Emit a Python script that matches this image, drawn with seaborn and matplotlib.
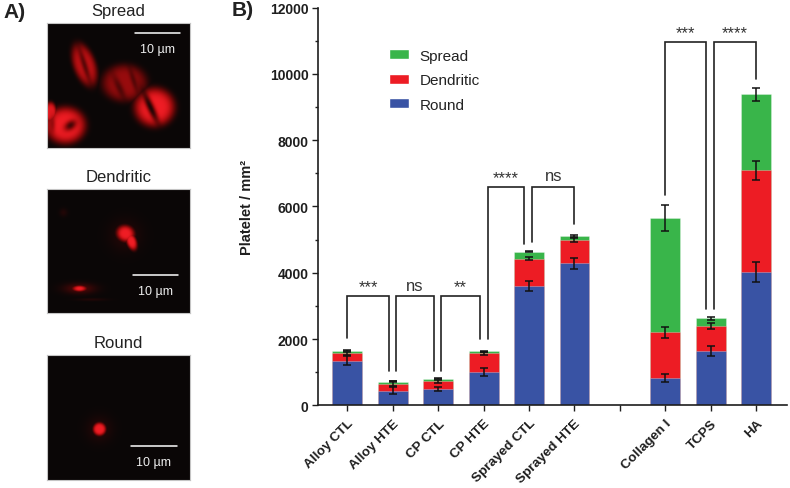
import numpy as np
import pandas as pd
import seaborn as sns
import matplotlib
matplotlib.use("Agg")
import matplotlib.pyplot as plt
from matplotlib.patches import Patch

sns.set_theme(style="ticks")
plt.rcParams["font.family"] = ["Liberation Sans", "DejaVu Sans"]

W, H = 790, 489
INK = "#1e1e1e"

categories = ["Alloy CTL", "Alloy HTE", "CP CTL", "CP HTE", "Sprayed CTL", "Sprayed HTE",
              " ", "Collagen I", "TCPS", "HA"]
round_vals = [1350, 445, 485, 1000, 3606, 4283, np.nan, 814, 1638, 4020]
dendritic_vals = [220, 211, 242, 565, 808, 712, np.nan, 1386, 744, 3065]
spread_vals = [70, 61, 81, 71, 222, 121, np.nan, 3448, 241, 2292]
round_err = [135, 100, 60, 115, 150, 170, np.nan, 125, 145, 305]
dendritic_err = [50, 65, 45, 55, 45, 60, np.nan, 160, 90, 285]
spread_err = [15, 12, 15, 15, 20, 25, np.nan, 400, 40, 190]
colors = {"Round": "#3953A4", "Dendritic": "#ED1C24", "Spread": "#39B54A"}

y_ticks = [0, 2000, 4000, 6000, 8000, 10000, 12000]
y_label = "Platelet / mm²"

# left index, left offset, left end, right index, right offset, right end, top, label
brackets = [
    (0, 0.0, 2030, 1, -0.09, 1040, 3290, "***"),
    (1, 0.06, 1040, 2, -0.09, 1040, 3290, "ns"),
    (2, 0.07, 1040, 3, -0.09, 2000, 3290, "**"),
    (3, 0.09, 2000, 4, -0.11, 4866, 6595, "****"),
    (4, 0.07, 4917, 5, 0.0, 5470, 6595, "ns"),
    (7, 0.0, 6330, 8, -0.11, 2895, 10950, "***"),
    (8, 0.07, 2895, 9, 0.0, 9830, 10950, "****"),
]

panel_titles = ["Spread", "Dendritic", "Round"]
scale_text = "10 µm"

df = pd.DataFrame({"category": categories, "Round": round_vals,
                   "Dendritic": dendritic_vals, "Spread": spread_vals})
df["Round_top"] = df["Round"]
df["Dendritic_top"] = df["Round_top"] + df["Dendritic"]
df["Spread_top"] = df["Dendritic_top"] + df["Spread"]

fig = plt.figure(figsize=(W / 100, H / 100), dpi=100, facecolor="white")


def px_axes(x0, y0, x1, y1):
    return fig.add_axes([x0 / W, 1 - y1 / H, (x1 - x0) / W, (y1 - y0) / H])


ax = px_axes(317.5, 8.5, 787, 406.3)

for layer in ["Spread", "Dendritic", "Round"]:
    sns.barplot(data=df, x="category", y=f"{layer}_top", order=categories,
                color=colors[layer], saturation=1, width=0.66, errorbar=None,
                edgecolor="#ffffff55", linewidth=0.6, ax=ax)

pos = np.arange(len(categories))
for layer, err in [("Round", round_err), ("Dendritic", dendritic_err), ("Spread", spread_err)]:
    ax.errorbar(pos, df[f"{layer}_top"], yerr=err, fmt="none", ecolor="#111111",
                elinewidth=1.1, capsize=3, capthick=1.1, zorder=5)

for li, lo, ly, ri, ro, ry, top, label in brackets:
    xl, xr = li + lo, ri + ro
    ax.plot([xl, xl, xr, xr], [ly, top, top, ry], color="#222222", lw=1.2,
            solid_joinstyle="miter", zorder=6)
    star = label != "ns"
    ax.text((xl + xr) / 2, top + (60 if star else 330), label, ha="center",
            va="bottom" if star else "center", fontsize=12,
            color="#333333", zorder=7)

ax.set_xlim(-0.66, 9.68)
ax.set_ylim(0, 12000)
ax.set_yticks(y_ticks)
ax.set_yticks(np.arange(1000, 12000, 2000), minor=True)
ax.set_xlabel("")
ax.set_ylabel(y_label, fontsize=10.5, fontweight="bold", color=INK, labelpad=11)
ax.tick_params(axis="y", which="major", length=4.5, width=1, labelsize=10,
               color=INK, labelcolor=INK, pad=2)
ax.tick_params(axis="y", which="minor", length=2.5, width=1, color=INK)
ax.tick_params(axis="x", length=4.5, width=1, labelsize=9.7, color=INK, labelcolor=INK, pad=4)
for t in ax.get_yticklabels():
    t.set_fontweight("bold")
ax.set_xticks(pos)
ax.set_xticklabels(categories, rotation=45, ha="right", rotation_mode="anchor", fontweight="bold")
sns.despine(ax=ax)
for s in ("left", "bottom"):
    ax.spines[s].set_linewidth(1.2)
    ax.spines[s].set_color(INK)

handles = [Patch(facecolor=colors[k], label=k) for k in ["Spread", "Dendritic", "Round"]]
fig.legend(handles=handles, loc="upper left", bbox_to_anchor=(388.5 / W, 1 - 49.5 / H),
           frameon=False, fontsize=11, labelspacing=0.69, handlelength=1.31,
           handleheight=0.65, handletextpad=0.72, borderpad=0, borderaxespad=0,
           labelcolor="#222222")


def micrograph(w, h, cells, holes):
    yy, xx = np.mgrid[0:h, 0:w]

    def coords(cx, cy, ang):
        a = np.deg2rad(ang)
        return ((xx - cx) * np.cos(a) + (yy - cy) * np.sin(a),
                -(xx - cx) * np.sin(a) + (yy - cy) * np.cos(a))

    out = np.zeros((h, w))
    for cx, cy, sx, sy, ang, amp, power in cells:
        u, v = coords(cx, cy, ang)
        out = np.maximum(out, amp * np.exp(-(((u / sx) ** 2 + (v / sy) ** 2) ** power)))
    for cx, cy, sx, sy, ang, amp in holes:
        u, v = coords(cx, cy, ang)
        out = out * (1 - amp * np.exp(-0.5 * ((u / sx) ** 2 + (v / sy) ** 2)))
    out = np.clip(out, 0, 1)
    img = np.zeros((h, w, 3))
    img[..., 0] = 0.04 + 0.90 * out
    img[..., 1] = 0.025 + 0.09 * out ** 3
    img[..., 2] = 0.025 + 0.12 * out ** 3
    return np.clip(img, 0, 1)


spread_cells = [
    (37, 41, 11, 22, -20, 0.78, 2.5),
    (77, 59, 22, 18, 0, 0.62, 2.5),
    (107, 83, 20, 19, 0, 1.0, 2.5),
    (18, 101, 20, 18, 0, 1.0, 2.5),
    (3, 88, 6, 10, 0, 0.95, 2.5),
]
spread_holes = [
    (37, 41, 2, 14, -18, 0.55),
    (72, 64, 2.5, 10, -25, 0.5),
    (86, 56, 2, 10, -18, 0.45),
    (103, 83, 2.4, 13, -25, 0.92),
    (23, 101, 4.5, 3, -35, 0.75),
    (5, 100, 2, 6, 0, 0.3),
]
dendritic_cells = [
    (78, 44, 9, 8, 20, 1.0, 2),
    (84, 52, 5, 9, -20, 1.0, 2),
    (78, 46, 15, 15, 0, 0.12, 1),
    (32, 99, 7, 3, 0, 1.0, 1.5),
    (32, 99, 15, 5, 0, 0.32, 1),
    (44, 110, 15, 1.5, 0, 0.10, 1),
    (16, 23, 4, 4, 0, 0.10, 1),
]
round_cells = [(52, 73, 6.5, 6.5, 0, 1.0, 2.5), (52, 73, 12, 12, 0, 0.13, 1)]

panels = [
    (24, 148.5, spread_cells, spread_holes, (87, 132, 9), 25),
    (190, 314, dendritic_cells, [], (85, 130, 85), 101),
    (356, 480.5, round_cells, [], (83, 129, 90), 106),
]
for title, (y0, y1, cells, holes, bar, ty) in zip(panel_titles, panels):
    a = px_axes(47, y0, 190, y1)
    a.imshow(micrograph(143, 124, cells, holes), aspect="auto", interpolation="bilinear")
    a.set_xticks([])
    a.set_yticks([])
    for s in a.spines.values():
        s.set_color("#c4c4c4")
        s.set_linewidth(0.8)
    a.plot(bar[:2], [bar[2], bar[2]], color="white", lw=1.1)
    a.text(sum(bar[:2]) / 2, ty, scale_text, color="#eeeeee", fontsize=9, ha="center", va="center")
    a.set_title(title, fontsize=12, color="#222222", pad=5.5)

fig.text(3 / W, 1 - 12 / H, "A)", fontsize=15, fontweight="bold", color="#222222", va="center")
fig.text(232 / W, 1 - 11 / H, "B)", fontsize=15, fontweight="bold", color="#222222", va="center")

fig.savefig("out.png", dpi=100, facecolor="white")
